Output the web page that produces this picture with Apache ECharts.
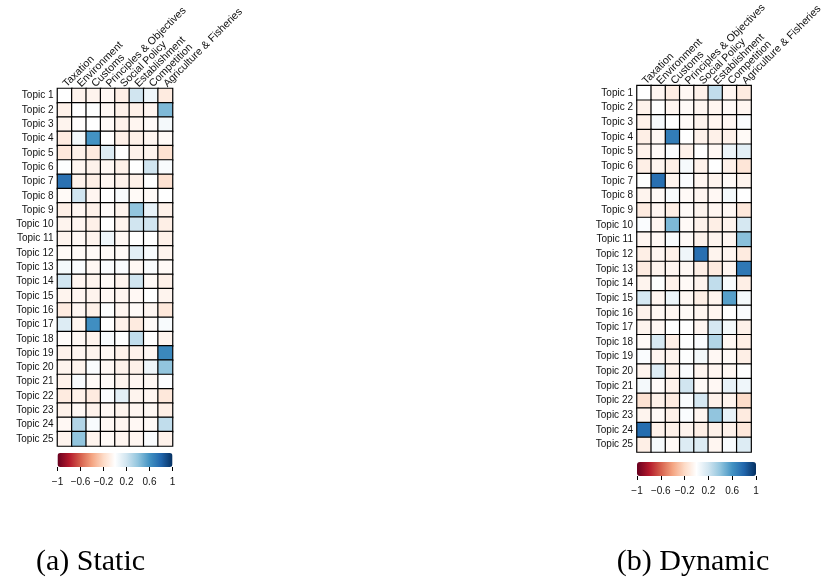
<!DOCTYPE html>
<html>
<head>
<meta charset="utf-8">
<script src="https://cdn.jsdelivr.net/npm/echarts@6/dist/echarts.min.js"></script>
<style>
  html, body { margin: 0; padding: 0; background: #fff; }
  #chart { width: 825px; height: 581px; }
</style>
</head>
<body>
<div id="chart"></div>
<script>
// Policy sectors (columns) and topics (rows)
const sectors = ['Taxation', 'Environment', 'Customs', 'Principles & Objectives',
  'Social Policy', 'Establishment', 'Competition', 'Agriculture & Fisheries'];

const topics = ['Topic 1', 'Topic 2', 'Topic 3', 'Topic 4', 'Topic 5', 'Topic 6', 'Topic 7',
  'Topic 8', 'Topic 9', 'Topic 10', 'Topic 11', 'Topic 12', 'Topic 13', 'Topic 14', 'Topic 15',
  'Topic 16', 'Topic 17', 'Topic 18', 'Topic 19', 'Topic 20', 'Topic 21', 'Topic 22', 'Topic 23',
  'Topic 24', 'Topic 25'];

// Correlation of each topic with each sector, static model
const staticCorr = [
  [0.00, -0.06, -0.06, -0.04, -0.09, 0.20, 0.07, -0.11],
  [-0.08, 0.00, 0.01, -0.04, -0.08, -0.08, -0.05, 0.45],
  [-0.06, -0.01, 0.00, -0.03, -0.07, -0.05, -0.02, 0.05],
  [-0.11, 0.05, 0.60, 0.00, -0.08, -0.08, -0.05, -0.03],
  [-0.13, -0.08, -0.11, 0.15, 0.00, -0.07, -0.06, -0.16],
  [0.01, -0.05, -0.07, -0.04, -0.08, 0.00, 0.20, 0.03],
  [0.75, -0.07, -0.09, -0.05, -0.07, -0.08, 0.00, -0.16],
  [-0.03, 0.20, -0.05, 0.00, 0.03, -0.03, -0.03, 0.00],
  [-0.09, -0.05, -0.08, -0.02, -0.06, 0.40, 0.10, -0.08],
  [-0.06, -0.05, -0.08, 0.00, -0.06, 0.20, 0.20, -0.09],
  [-0.06, -0.04, -0.06, 0.07, -0.04, 0.00, 0.00, -0.08],
  [-0.03, -0.03, -0.03, -0.03, -0.03, 0.12, 0.03, -0.06],
  [0.05, 0.02, -0.04, 0.02, 0.02, -0.04, 0.02, -0.03],
  [0.20, -0.05, -0.06, -0.03, -0.06, 0.20, -0.03, -0.08],
  [-0.06, -0.05, -0.06, -0.04, -0.05, -0.04, 0.00, -0.06],
  [-0.11, -0.05, -0.08, 0.01, -0.05, -0.03, -0.05, -0.13],
  [0.15, -0.05, 0.62, 0.00, -0.07, -0.11, -0.03, 0.03],
  [-0.02, -0.04, -0.06, 0.03, 0.00, 0.25, 0.00, -0.06],
  [-0.07, -0.05, -0.06, -0.04, -0.07, -0.07, -0.04, 0.65],
  [-0.06, -0.06, 0.02, -0.04, -0.07, -0.08, 0.07, 0.40],
  [-0.07, 0.03, -0.03, -0.03, -0.06, -0.05, -0.04, 0.02],
  [-0.11, -0.08, -0.11, 0.02, 0.12, -0.06, -0.05, -0.13],
  [-0.08, -0.04, -0.07, -0.04, -0.06, -0.05, -0.04, -0.09],
  [-0.04, 0.30, 0.03, -0.04, -0.05, -0.04, -0.03, 0.25],
  [-0.06, 0.40, -0.06, -0.03, -0.05, -0.05, 0.02, -0.07]
];

// Correlation of each topic with each sector, dynamic model
const dynamicCorr = [
  [0.00, -0.05, -0.10, -0.04, -0.07, 0.25, -0.05, -0.11],
  [-0.07, 0.00, -0.05, -0.03, -0.05, -0.05, -0.03, -0.05],
  [-0.07, 0.04, 0.00, -0.03, -0.06, -0.05, -0.04, 0.02],
  [-0.09, -0.04, 0.70, 0.00, -0.07, -0.08, -0.07, -0.03],
  [-0.07, -0.03, 0.02, -0.07, 0.00, -0.04, 0.08, 0.12],
  [-0.09, -0.06, -0.09, 0.04, -0.07, 0.00, -0.07, -0.14],
  [0.01, 0.76, -0.06, 0.02, -0.05, -0.06, -0.03, -0.06],
  [-0.06, -0.03, 0.03, -0.03, -0.05, -0.04, 0.05, 0.00],
  [-0.11, -0.05, -0.09, -0.03, -0.06, -0.05, -0.04, -0.13],
  [0.02, -0.05, 0.45, -0.03, -0.07, -0.09, -0.06, 0.18],
  [-0.05, -0.04, 0.03, -0.03, -0.07, -0.06, -0.05, 0.42],
  [-0.09, -0.05, -0.08, 0.07, 0.76, -0.06, -0.05, -0.11],
  [-0.11, -0.06, -0.05, -0.04, -0.09, -0.11, -0.05, 0.72],
  [-0.06, 0.01, -0.07, -0.03, -0.06, 0.25, 0.03, -0.09],
  [0.18, -0.05, 0.08, -0.04, -0.09, -0.06, 0.55, 0.05],
  [-0.07, -0.04, -0.05, -0.03, -0.05, -0.05, 0.00, 0.02],
  [-0.06, -0.04, 0.00, 0.00, -0.05, 0.18, 0.05, -0.08],
  [-0.03, 0.17, -0.09, 0.01, 0.02, 0.30, -0.04, -0.09],
  [0.02, -0.05, -0.06, 0.01, 0.05, -0.04, -0.03, -0.09],
  [-0.06, 0.15, -0.07, 0.02, -0.05, -0.05, -0.04, 0.00],
  [0.05, -0.02, -0.07, 0.20, -0.03, -0.04, 0.10, 0.07],
  [-0.16, -0.08, -0.11, 0.02, 0.18, -0.07, -0.06, -0.19],
  [-0.06, -0.03, -0.08, 0.02, -0.05, 0.40, 0.10, -0.11],
  [0.77, -0.07, -0.08, -0.06, -0.09, -0.08, -0.07, -0.13],
  [-0.09, 0.04, -0.03, 0.15, 0.15, -0.05, 0.03, 0.15]
];

// Colour legend tick labels
const colorbarTicks = [-1, -0.6, -0.2, 0.2, 0.6, 1];

// Diverging red-white-blue palette
const rdbu = ['#67001F', '#B2182B', '#D6604D', '#F4A582', '#FDDBC7', '#FFFFFF',
  '#D1E5F0', '#92C5DE', '#4393C3', '#2166AC', '#053061'];

function toCells(matrix) {
  const cells = [];
  matrix.forEach((row, r) => row.forEach((v, c) => cells.push([c, r, v])));
  return cells;
}

const panels = [
  { left: 57.5, top: 88.5, width: 115, height: 357.5, data: staticCorr,
    barTop: 453, caption: '(a) Static', captionX: 90.5 },
  { left: 637, top: 82, width: 119, height: 370, data: dynamicCorr,
    barTop: 462, caption: '(b) Dynamic', captionX: 693 }
];

const textStyle = { fontFamily: 'Liberation Sans, Arial, sans-serif', fontSize: 10, color: '#111' };

const option = {
  animation: false,
  backgroundColor: '#fff',
  grid: [],
  xAxis: [],
  yAxis: [],
  visualMap: [],
  series: [],
  graphic: []
};

panels.forEach((p) => {
  // heatmap grid
  option.grid.push({ left: p.left, top: p.top, width: p.width, height: p.height });
  option.xAxis.push({
    type: 'category', data: sectors, gridIndex: option.grid.length - 1, position: 'top',
    axisLine: { show: false }, axisTick: { show: false }, splitLine: { show: false },
    axisLabel: Object.assign({ rotate: -45, margin: 3, interval: 0 }, textStyle, { fontSize: 10.6 })
  });
  option.yAxis.push({
    type: 'category', data: topics, gridIndex: option.grid.length - 1, inverse: true,
    axisLine: { show: false }, axisTick: { show: false }, splitLine: { show: false },
    axisLabel: Object.assign({ margin: 4, interval: 0 }, textStyle)
  });
  option.series.push({
    type: 'heatmap', xAxisIndex: option.xAxis.length - 1, yAxisIndex: option.yAxis.length - 1,
    data: toCells(p.data),
    itemStyle: { borderColor: '#000', borderWidth: 1.2 },
    emphasis: { disabled: true }
  });
  const seriesIdx = option.series.length - 1;

  // colour bar
  option.visualMap.push({
    type: 'continuous', min: -1, max: 1, seriesIndex: seriesIdx,
    orient: 'horizontal', left: p.left, top: p.barTop,
    itemWidth: 14, itemHeight: p.width, calculable: false, realtime: false,
    text: null, showLabel: false, padding: 0, hoverLink: false,
    inRange: { color: rdbu }
  });

  // colour bar tick axis
  option.grid.push({ left: p.left, top: p.barTop + 14, width: p.width, height: 0.01 });
  option.xAxis.push({
    type: 'value', min: -1, max: 1, gridIndex: option.grid.length - 1, position: 'bottom',
    axisLine: { show: false }, splitLine: { show: false },
    axisTick: { show: true, length: 4, lineStyle: { color: '#000', width: 1 }, customValues: colorbarTicks },
    axisLabel: Object.assign({ margin: 10, customValues: colorbarTicks,
      formatter: v => (v < 0 ? '\u2212' + Math.abs(v) : String(v)) }, textStyle)
  });
  option.yAxis.push({ type: 'value', gridIndex: option.grid.length - 1, show: false });

  // sub-figure caption
  option.graphic.push({
    type: 'text', x: p.captionX, y: 562,
    style: { text: p.caption, font: '30px "Liberation Serif", serif', fill: '#000',
      textAlign: 'center', textVerticalAlign: 'middle' }
  });
});

const chart = echarts.init(document.getElementById('chart'), null, { renderer: 'canvas' });
chart.setOption(option);
</script>
</body>
</html>
